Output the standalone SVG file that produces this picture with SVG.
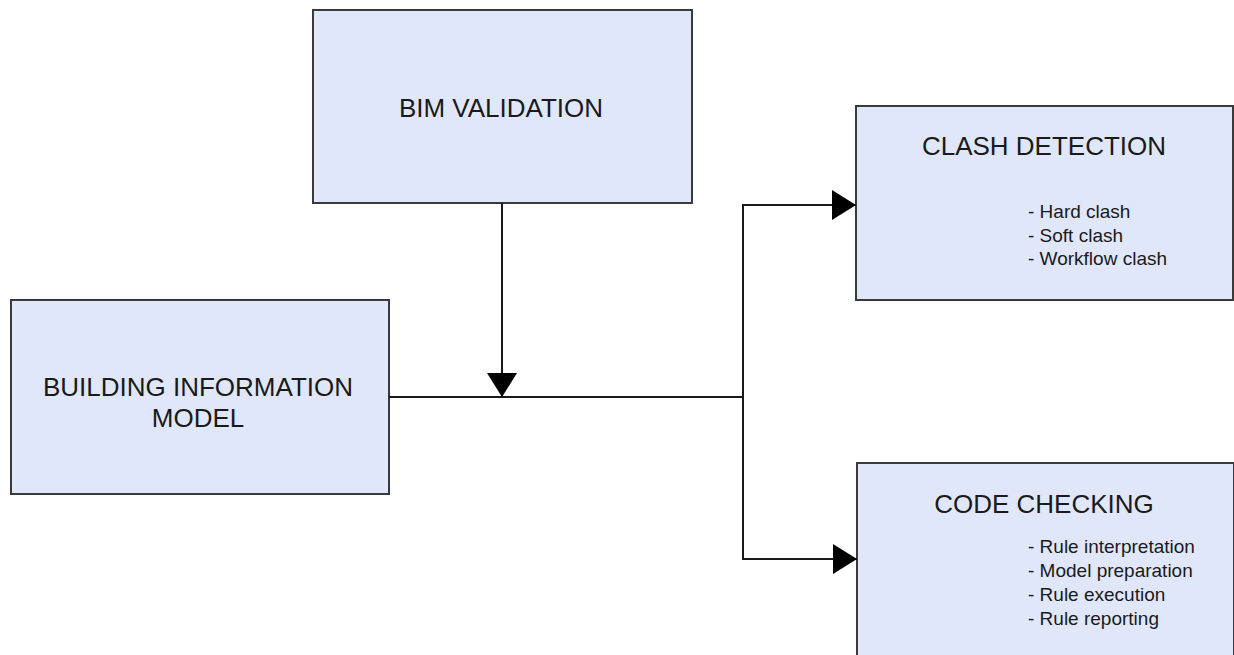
<svg xmlns="http://www.w3.org/2000/svg" width="1234" height="655" viewBox="0 0 1234 655">
<style>
.box{fill:#e1e7fa;stroke:#3a3a3a;stroke-width:2}
.t{font-family:"Liberation Sans",Arial,sans-serif;font-size:26px;fill:#1a1a1a;text-anchor:middle}
.s{font-family:"Liberation Sans",Arial,sans-serif;font-size:19px;fill:#1a1a1a}
.c{fill:none;stroke:#1a1a1a;stroke-width:2}
</style>
<defs>
<marker id="ah" viewBox="0 0 24 30" refX="24" refY="15" markerWidth="24" markerHeight="30" markerUnits="userSpaceOnUse" orient="auto">
<path d="M0,0 L24,15 L0,30 Z" fill="#000"/>
</marker>
</defs>
<rect width="1234" height="655" fill="#fff"/>
<g id="bim-validation">
<rect class="box" x="313" y="10" width="379" height="193"/>
<text class="t" x="501" y="117">BIM VALIDATION</text>
</g>
<g id="building-information-model">
<rect class="box" x="11" y="300" width="378" height="194"/>
<text class="t" x="198" y="396">BUILDING INFORMATION</text>
<text class="t" x="198" y="427">MODEL</text>
</g>
<g id="clash-detection">
<rect class="box" x="856" y="106" width="377" height="194"/>
<text class="t" x="1044" y="155">CLASH DETECTION</text>
<text class="s" x="1028" y="218">- Hard clash</text>
<text class="s" x="1028" y="242">- Soft clash</text>
<text class="s" x="1028" y="265">- Workflow clash</text>
</g>
<g id="code-checking">
<rect class="box" x="857" y="463" width="377" height="200"/>
<text class="t" x="1044" y="513">CODE CHECKING</text>
<text class="s" x="1028" y="553">- Rule interpretation</text>
<text class="s" x="1028" y="577">- Model preparation</text>
<text class="s" x="1028" y="601">- Rule execution</text>
<text class="s" x="1028" y="625">- Rule reporting</text>
</g>
<g id="connectors">
<line class="c" x1="389" y1="397" x2="743" y2="397"/>
<line class="c" x1="502" y1="203" x2="502" y2="397" marker-end="url(#ah)"/>
<polyline class="c" points="743,397 743,205 856,205" marker-end="url(#ah)"/>
<polyline class="c" points="743,397 743,559 857,559" marker-end="url(#ah)"/>
</g>
</svg>
